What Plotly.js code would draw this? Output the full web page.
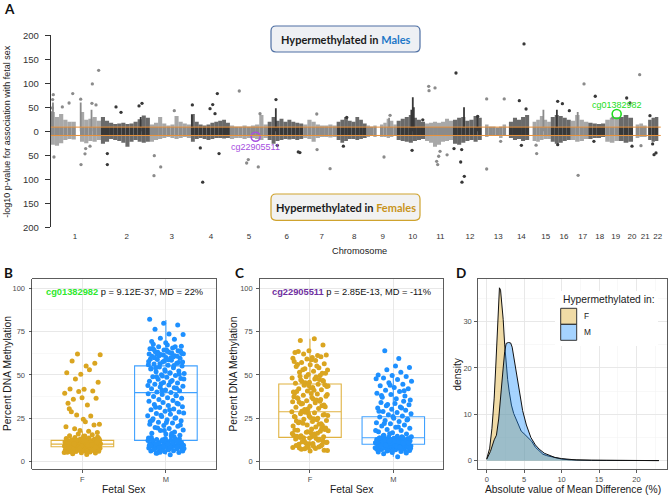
<!DOCTYPE html>
<html><head><meta charset="utf-8">
<script src="https://cdn.plot.ly/plotly-3.0.1.min.js"></script>
<style>html,body{margin:0;padding:0;background:#fff}#plot{width:669px;height:496px}</style>
</head><body><div id="plot"></div>
<script>
// ================= Panel A : Manhattan plot =================
const chrLabels = ['1','2','3','4','5','6','7','8','9','10','11','12','13','14','15','16','17','18','19','20','21','22'];
// plotted span of each chromosome (Mb, as laid out on the x axis)
const chrSpan = [246,240,201,191,185,174,164,147,147,139,137,141,119,113,106,98,86,83,67,69,67,57];
// first probe position (acrocentric chromosomes have no probes on the p arm)
const chrProbeStart = [0,0,0,0,0,0,0,0,0,0,0,0,16,14,17,0,0,0,0,0,13,7];
// chromosome label positions (cumulative Mb)
const chrTickPos = [119,372,593,785,972,1156,1328,1487,1627,1774,1909,2054,2193,2306,2425,2515,2607,2690,2768,2848,2913,2974];
// envelope of the dense band of points (signed -log10 p), per chromosome bins
const bandUpper = [
 [40,30,36,24,20,20,0,40,24,26,30,22],
 [30,22,18,15,16,18,15,16,20,25,33,28],
 [14,18,30,16,12,14,32,20,16,14],
 [36,20,14,12,14,18,20,22,24,18],
 [12,10,10,12,10,12,14,34,14],
 [20,30,22,26,20,24,20,18,16],
 [14,24,20,14,12,12,14,12],
 [20,24,30,22,20,30,24,16],
 [12,10,12,0,14,18,26,22,14],
 [22,26,30,34,28,24,20],
 [16,18,20,18,20,26,22],
 [24,28,30,22,24,32,28],
 [14,10,10,8,10,14],
 [20,28,24,30,34],
 [20,24,32,24,20],
 [30,34,32,28,24],
 [22,34,24,20],
 [18,16,15,16],
 [24,28,30],
 [30,34,28],
 [14,16,12],
 [24,28,30]];
const bandLower = [
 [-28,-30,-25,-18,-16,-17,0,-22,-25,-20,-22,-18],
 [-26,-22,-16,-18,-20,-24,-32,-22,-18,-22,-24,-22],
 [-22,-18,-16,-14,-12,-14,-16,-14,-12,-14],
 [-22,-16,-14,-16,-18,-16,-14,-14,-15,-14],
 [-16,-14,-14,-16,-14,-14,-16,-18,-14],
 [-18,-26,-20,-18,-16,-17,-16,-18,-16],
 [-14,-16,-22,-14,-12,-12,-13,-12],
 [-18,-24,-20,-16,-16,-18,-16,-14],
 [-12,-10,-12,0,-12,-12,-14,-12,-10],
 [-18,-20,-22,-24,-20,-18,-16],
 [-20,-24,-32,-28,-22,-20,-18],
 [-26,-28,-24,-20,-18,-22,-18],
 [-12,-8,-8,-8,-14,-10],
 [-14,-18,-16,-20,-18],
 [-20,-22,-18,-16,-16],
 [-22,-26,-24,-20,-18],
 [-18,-22,-20,-16],
 [-16,-14,-14,-12],
 [-22,-24,-20],
 [-20,-24,-22],
 [-14,-12,-12],
 [-18,-22,-20]];
const bandCore = 9;   // solid part of the band (|-log10 p| below this)
// tall columns of points
const spikeChr = [1,1,1,1,2,4,6,10,10,10,12,15,16,17,9,12];
const spikePos = [5,11,147,200,195,5,40,72,79,84,54,70,30,34,110,120];
const spikeTop = [42,60,60,45,30,34,48,45,71,50,50,45,45,40,28,33];
// isolated points
const ptChr = [1,1,1,1,1,1,1,1,1,1,1,1,1,1,1,1, 2,2,2,2,2,2, 3,3,3,3, 4,4,4,4,4,4,4,4, 5,5,5,5,5, 6,6,6,6, 7,7,7, 8,8, 9,9, 10,10,
 11,11,11,11,11,11,11,11, 12,12,12,12,12,12,12, 13,13,13,13, 14,14,14,14, 15,15, 16,16,16,16, 17,17, 18,18, 19, 20,20,20, 21,21, 22,22,22,22];
const ptPos = [12.7,9.6,8,16,57,90,108,147,148.5,168,171.5,204,202,222,235,192.6, 31.5,31.5,74,98.5,186.7,201.4, 21.6,20,53,119.6,
 7,57.8,46,93.6,106.8,118,129.4,137.7, 46,90,82,139,147.5, 40.7,47,150,158, 66.6,131.8,68, 49.5,33, 114.7,85, 75.5,128,
 18,19.6,49,57,67,73.5,62,108, 14.7,5,37.7,44,55.4,42.6,121, 24,24,110,92.6, 88,65,98,75, 37,34, 34,57,91,34, 65,36, 34,27.4, 36.5, 38,54,64, 32.6,39, 16,36,45.6,29];
const ptVal = [76.4,66,48.6,-53.5,50.7,59,78.5,67,-69.4,-47,-36,98.6,58.3,55,127,-31, -69.4,-46.5,50.7,39.6,52.8,58.3, -50.7,-92.4,-74.3,43,
 55,-106,-34.7,47.2,55.6,36.8,78.5,-46.5, 84,-59,-66,-74.3,36.8, 66,-29.2,-43,-44.4, 36,-77.8,-38, 29,-31, 33.3,-53.5, -39.6,24,
 93.75,84.7,90.3,-62.5,-52,-41.7,-69.4,-49, 121.5,-36,-64,-106,-93.75,-38,31, 67.4,-78.5,67.4,-20.8, 182,63.9,46.5,-29.2, -46.5,-29, 62.5,57.6,43,-27.8, 98.6,-91.7, 73,-20.8, 27.8, 69.4,59,-31, 118,-29.9, 32.6,-48.6,-45,-26.4];
const sigThreshold = 8.7;
// highlighted CpGs
const hlLabel = ['cg01382982','cg22905511'];
const hlChr = [19,5];
const hlPos = [56,126];
const hlVal = [36,-11.25];
const yTickVals = [-200,-150,-100,-50,0,50,100,150,200];

// ================= Panels B / C : box plots =================
const sexLabels = ['F','M'];
const methylB_F = [4.2,4.6,5.0,5.2,5.4,5.6,5.8,6.0,6.1,6.3,6.4,6.6,6.7,6.9,7.0,7.1,7.3,7.4,7.5,7.6,7.8,7.9,8.0,8.1,8.2,8.3,8.4,8.5,8.6,8.7,8.7,8.8,8.9,9.0,9.0,9.1,9.2,9.2,9.3,9.4,9.4,9.5,9.6,9.6,9.7,9.8,9.8,9.9,10.0,10.0,10.1,10.1,10.2,10.3,10.3,10.4,10.5,10.5,10.6,10.7,10.8,10.8,10.9,11.0,11.1,11.2,11.3,11.4,11.5,11.6,11.7,11.8,12.0,12.1,12.2,12.4,12.5,12.7,12.9,13.1,13.3,13.6,13.9,14.2,14.6,15.0,15.5,16.0,5.3,6.2,7.2,8.2,9.1,10.2,11.1,12.3,13.4,14.8,5.7,6.8,7.7,8.6,9.5,10.4,11.3,12.6,7.9,9.9,
 62.1,61.7,55.2,58.0,56.7,50.4,51.2,53.0,47.7,45.8,41.7,41.9,40.8,40.5,39.4,32.7,36.0,36.5,36.9,33.7,26.3,26.9,21.5,23.0,28.8,21.2,18.0,20.2,17.5,19.0,16.8,24.5,30.5];
const methylB_M = [4.0,4.8,5.3,5.7,6.1,6.3,6.6,6.9,7.1,7.4,7.5,7.7,7.9,8.1,8.3,8.4,8.7,8.9,9.1,9.2,9.5,9.7,9.9,10.1,10.2,10.5,10.7,10.8,11.1,11.3,11.4,11.7,11.9,12.2,12.4,12.8,13.1,13.4,13.9,14.4,5.5,6.2,6.8,7.3,8.0,8.6,9.3,9.8,10.4,11.0,11.6,12.3,13.0,6.5,7.6,8.8,10.0,11.2,12.0,9.4,10.9,8.2,9.0,10.3,7.0,11.8,12.6,13.6,14.8,5.0,
 15.2,15.9,16.4,17.1,17.9,18.3,19.1,19.7,20.4,20.8,21.6,22.3,22.7,23.6,24.1,24.8,25.3,26.1,26.5,27.4,27.8,28.6,29.1,29.9,30.3,31.2,31.6,32.4,32.9,33.7,34.1,34.8,16.2,19.4,21.1,22.6,23.9,25.1,26.7,28.1,30.0,31.4,33.3,18.0,23.2,
 35.3,35.8,36.5,36.9,37.6,38.0,38.7,39.1,39.8,40.2,40.9,41.3,42.0,42.6,43.1,43.5,44.2,44.6,45.3,45.7,46.4,46.8,47.5,47.9,48.6,49.0,49.7,50.1,50.8,51.2,51.9,52.3,53.0,53.4,54.1,54.5,55.2,55.6,56.3,56.7,57.4,57.8,58.5,58.9,59.6,60.0,60.7,61.1,61.8,62.2,62.9,63.3,64.0,64.4,65.1,65.5,66.2,66.6,67.3,67.7,38.2,41.1,43.9,46.1,48.9,50.4,52.1,53.7,55.5,56.4,57.5,58.7,59.9,60.8,61.5,62.0,62.6,63.1,63.8,64.3,65.2,66.3,44.9,47.6,51.0,54.2,57.1,58.2,59.2,60.4,61.0,62.4,63.5,64.7,42.3,49.4,55.8,60.1,61.9,63.7,
 68.5,69.2,70.5,71.2,73.3,73.6,76.4,78.8,79.8,82.1];
const methylC_F = [70.8,69.8,67.3,64.0,62.9,61.2,62.1,61.5,60.0,63.5,60.5,
 59.2,59.6,58.3,57.1,56.4,55.8,54.9,54.2,53.6,52.8,52.1,51.5,50.9,50.3,57.7,55.1,53.0,51.0,58.8,56.0,
 49.6,49.0,48.3,47.7,47.1,46.5,45.8,45.2,44.6,44.0,43.3,42.7,42.1,41.5,40.8,40.2,48.8,46.2,44.3,42.4,40.5,47.4,45.5,43.6,41.2,49.3,46.8,43.9,
 39.6,39.0,38.3,37.7,37.0,36.4,35.8,35.1,34.5,33.9,33.2,32.6,32.0,31.3,30.7,30.1,38.7,36.1,34.2,32.3,30.4,37.4,35.5,33.6,31.7,39.3,36.8,34.8,
 29.5,28.8,28.2,27.6,26.9,26.3,25.7,25.0,24.4,23.8,23.1,22.5,21.9,21.2,20.6,20.0,29.0,27.2,25.4,23.5,21.6,28.5,26.6,24.7,22.8,20.9,27.9,26.0,24.1,22.2,
 19.4,18.8,18.1,17.5,16.9,16.2,15.6,15.0,14.3,13.7,13.1,12.4,11.8,11.2,10.5,10.0,19.0,17.2,15.3,13.4,11.5,18.5,16.6,14.7,12.8,10.9,17.8,15.9,14.0,12.1,10.3,18.2,16.4,13.8,11.0,14.5,
 9.6,9.1,8.6,8.1,7.6,7.1,6.6,6.1,9.3,8.4,7.4,6.4,8.9,7.9,9.8,8.2];
const methylC_M = [2.9,4.5,5.0,5.3,5.6,5.9,6.2,6.5,6.8,7.0,7.2,7.4,7.6,7.8,8.0,8.2,8.4,8.6,8.8,9.0,9.1,9.3,9.4,9.6,9.7,9.9,10.0,10.1,10.3,10.4,10.5,10.7,10.8,10.9,11.1,11.2,11.3,11.5,11.6,11.7,11.9,12.0,12.2,12.3,12.5,12.6,12.8,12.9,13.1,13.3,13.5,13.7,13.9,14.1,14.3,14.6,14.9,5.4,6.0,6.7,7.3,7.9,8.5,9.2,9.8,10.2,10.6,11.0,11.4,11.8,12.4,13.0,13.6,14.4,6.4,7.7,8.9,10.0,11.3,12.7,7.1,8.3,9.5,10.9,12.1,9.0,10.6,11.7,8.0,13.4,
 15.3,15.9,16.6,17.2,17.9,18.5,19.2,19.8,20.5,21.1,21.8,22.4,23.1,23.7,24.4,25.0,25.7,26.3,27.0,27.6,28.3,28.9,29.6,30.2,30.9,31.5,32.2,32.8,33.5,34.1,34.8,16.1,18.0,20.0,22.0,24.0,26.0,29.0,31.0,33.0,
 35.5,36.3,37.1,37.9,38.7,39.5,40.4,41.2,42.0,42.8,43.7,44.6,45.5,46.4,47.3,48.2,49.1,49.7,50.0,51.5,53.0,54.3,55.1,38.2,40.9,44.0,47.8,
 59.5,64.0];
// box statistics [F, M]
const bQ1 = [8.6,12.3],  bMed = [10.1,39.8], bQ3 = [12.3,55.2], bLo = [4.3,4.0], bHi = [17.5,81.7];
const cQ1 = [14.0,10.0], cMed = [28.8,13.8], cQ3 = [44.8,25.9], cLo = [6.1,2.9], cHi = [70.8,49.7];
const titleB = ['cg01382982',' p = 9.12E-37, MD = 22%'];
const titleC = ['cg22905511',' p = 2.85E-13, MD = -11%'];

// ================= Panel D : density =================
const diffX_F = [0,0.4,0.7,1.0,1.2,1.4,1.55,1.7,1.85,2.0,2.2,2.4,2.6,2.8,3.0,3.3,3.6,3.9,4.2,4.6,5.0,5.5,6.0,6.5,7.0,7.5,8.0,8.5,9,10,11,12,14,16,18,20,22,23];
const dens_F  = [0.4,2.7,7,13.5,20,28,34,37.3,36.8,34.5,30.5,25,21,17.5,15,12,10.2,9,7.8,6.4,5.8,5.1,4.2,2.9,2.1,1.4,1.1,0.9,0.6,0.35,0.2,0.12,0.08,0.06,0.05,0.04,0.03,0.02];
const diffX_M = [0,0.5,1.0,1.3,1.6,1.95,2.2,2.4,2.6,2.9,3.2,3.4,3.6,3.8,4.1,4.4,4.8,5.3,5.9,6.5,7.0,7.7,8.5,9.1,10,11,12,14,16,18,20,22,23];
const dens_M  = [0.3,2,4.5,5.5,9,16.3,20,23.5,25.3,25.5,25.4,24.5,22.5,19.9,17,14.2,10.8,7.7,5,3.4,2.5,1.6,1.0,0.7,0.45,0.3,0.15,0.1,0.08,0.06,0.05,0.03,0.02];
const legendTitle = 'Hypermethylated in:';

// ================= drawing =================
const W = 669, H = 496;
const px = v => v / W, py = v => 1 - v / H;
const FONT = 'Liberation Sans, Arial, sans-serif';
const BOLDFONT = 'Lato, Open Sans, sans-serif';
const GRAY = '#8b8b8b', DARK = '#383838';
const GOLD = '#DAA520', BLUE = '#1E90FF';
const traces = [];

const cum = []; let acc = 0;
chrSpan.forEach(s => { cum.push(acc); acc += s; });
const chrColor = i => (i % 2 === 0 ? GRAY : DARK);

// dense band: solid core plus lighter fringe
const core = {x:[], base:[], y:[], w:[], c:[]}, fringe = {x:[], base:[], y:[], w:[], c:[]};
const addBar = (o, x, b, h, w, c) => { if (h <= 0) return; o.x.push(x); o.base.push(b); o.y.push(h); o.w.push(w); o.c.push(c); };
bandUpper.forEach((ups, i) => {
  const lows = bandLower[i];
  const start = cum[i] + chrProbeStart[i];
  const binW = (chrSpan[i] - chrProbeStart[i]) / ups.length;
  ups.forEach((u, j) => {
    const l = lows[j];
    if (u === 0 && l === 0) return;
    const xc = start + (j + 0.5) * binW, col = chrColor(i);
    const cu = Math.min(u, bandCore), cl = Math.max(l, -bandCore);
    addBar(core, xc, cl, cu - cl, binW, col);
    addBar(fringe, xc, cu, u - cu, binW, col);
    addBar(fringe, xc, l, cl - l, binW, col);
  });
});
traces.push({type:'bar', x:fringe.x, y:fringe.y, base:fringe.base, width:fringe.w, marker:{color:fringe.c, opacity:0.75, line:{width:0}}, xaxis:'x', yaxis:'y', hoverinfo:'skip'});
traces.push({type:'bar', x:core.x, y:core.y, base:core.base, width:core.w, marker:{color:core.c, line:{width:0}}, xaxis:'x', yaxis:'y', hoverinfo:'skip'});

// spikes
[0,1].forEach(par => {
  const sx = [], sy = [];
  spikeChr.forEach((c, k) => {
    if ((c - 1) % 2 !== par) return;
    const x = cum[c - 1] + spikePos[k];
    sx.push(x, x, null); sy.push(0, spikeTop[k], null);
  });
  traces.push({type:'scatter', mode:'lines', x:sx, y:sy, line:{color: par === 0 ? GRAY : DARK, width:1.8}, xaxis:'x', yaxis:'y', hoverinfo:'skip'});
});

// isolated points
traces.push({type:'scatter', mode:'markers',
  x: ptChr.map((c, k) => cum[c - 1] + ptPos[k]), y: ptVal,
  marker:{size:3.3, color: ptChr.map(c => chrColor(c - 1))}, xaxis:'x', yaxis:'y', hoverinfo:'skip'});

// highlighted CpGs
const hlColor = ['#22dd22', '#a64fe0'];
traces.push({type:'scatter', mode:'markers',
  x: hlChr.map((c, k) => cum[c - 1] + hlPos[k]), y: hlVal,
  marker:{symbol:'circle-open', size:9, color:hlColor, line:{width:1.6, color:hlColor}}, xaxis:'x', yaxis:'y', hoverinfo:'skip'});

// Panels B and C: jittered points (horizontal spread only) + boxes
const GOLDEN = 0.6180339887;
const jitter = (n, center) => Array.from({length:n}, (_, k) => center + (((k + 1) * GOLDEN) % 1 - 0.5) * 0.44);
function boxPanel(xa, ya, fVals, mVals, q1, med, q3, lo, hi) {
  [fVals, mVals].forEach((vals, i) => {
    traces.push({type:'scatter', mode:'markers', x:jitter(vals.length, i + 1), y:vals,
      marker:{color: i === 0 ? GOLD : BLUE, size:5}, xaxis:xa, yaxis:ya, hoverinfo:'skip'});
  });
  [0,1].forEach(i => {
    traces.push({type:'box', x:[i + 1], q1:[q1[i]], median:[med[i]], q3:[q3[i]], lowerfence:[lo[i]], upperfence:[hi[i]],
      width:0.75, boxpoints:false, whiskerwidth:0,
      line:{color: i === 0 ? 'rgba(218,165,32,0.85)' : 'rgba(30,144,255,0.85)', width:1.1},
      fillcolor:'rgba(0,0,0,0)', xaxis:xa, yaxis:ya, hoverinfo:'skip'});
  });
}
boxPanel('x2','y2', methylB_F, methylB_M, bQ1, bMed, bQ3, bLo, bHi);
boxPanel('x3','y3', methylC_F, methylC_M, cQ1, cMed, cQ3, cLo, cHi);

// Panel D
traces.push({type:'scatter', mode:'lines', x:diffX_F, y:dens_F, fill:'tozeroy', fillcolor:'rgba(218,165,32,0.4)', line:{color:'#111', width:1}, xaxis:'x4', yaxis:'y4', hoverinfo:'skip'});
traces.push({type:'scatter', mode:'lines', x:diffX_M, y:dens_M, fill:'tozeroy', fillcolor:'rgba(30,144,255,0.4)', line:{color:'#111', width:1}, xaxis:'x4', yaxis:'y4', hoverinfo:'skip'});

// ---------- layout ----------
const bw_axis = {showline:true, mirror:true, linecolor:'#333', linewidth:0.8, ticks:'outside', ticklen:3, tickwidth:0.8, tickcolor:'#333',
  tickfont:{family:FONT, size:7.5, color:'#4d4d4d'}, showgrid:true, gridcolor:'#e6e6e6', gridwidth:0.9, zeroline:false, fixedrange:true};
const minorGrid = d => ({dtick:d, tick0:0, showgrid:true, gridcolor:'#f3f3f3', gridwidth:0.6});
const yDomBottom = [py(469.3), py(279)];

function rrect(x0, y0, x1, y1, r) {
  const X = v => px(v).toFixed(5), Y = v => py(v).toFixed(5);
  return `M${X(x0+r)},${Y(y0)} L${X(x1-r)},${Y(y0)} Q${X(x1)},${Y(y0)} ${X(x1)},${Y(y0+r)} L${X(x1)},${Y(y1-r)} Q${X(x1)},${Y(y1)} ${X(x1-r)},${Y(y1)} L${X(x0+r)},${Y(y1)} Q${X(x0)},${Y(y1)} ${X(x0)},${Y(y1-r)} L${X(x0)},${Y(y0+r)} Q${X(x0)},${Y(y0)} ${X(x0+r)},${Y(y0)} Z`;
}
const shapes = [
  {type:'line', xref:'x', yref:'y', x0:0, x1:2989, y0:sigThreshold, y1:sigThreshold, line:{color:'#e8913a', width:1}, layer:'above'},
  {type:'line', xref:'x', yref:'y', x0:0, x1:2989, y0:-sigThreshold, y1:-sigThreshold, line:{color:'#e8913a', width:1}, layer:'above'},
  {type:'path', xref:'paper', yref:'paper', path:rrect(271,26,420,52,5), fillcolor:'#eef0f4', line:{color:'#4e6fa3', width:1.2}, layer:'above'},
  {type:'path', xref:'paper', yref:'paper', path:rrect(271,194,420,220.3,5), fillcolor:'#f2f2f2', line:{color:'#cfa32e', width:1.2}, layer:'above'},
  // legend of panel D
  {type:'rect', xref:'paper', yref:'paper', x0:px(555), x1:px(658), y0:py(346), y1:py(291), fillcolor:'#fff', line:{width:0}, layer:'above'},
  {type:'rect', xref:'paper', yref:'paper', x0:px(560.7), x1:px(576.7), y0:py(324.3), y1:py(308.3), fillcolor:'rgba(218,165,32,0.4)', line:{color:'#333', width:1}, layer:'above'},
  {type:'rect', xref:'paper', yref:'paper', x0:px(560.7), x1:px(576.7), y0:py(340.3), y1:py(324.3), fillcolor:'rgba(30,144,255,0.4)', line:{color:'#333', width:1}, layer:'above'}
];

const ann = (x, y, text, o = {}) => Object.assign({xref:'paper', yref:'paper', x:px(x), y:py(y), text, showarrow:false,
  xanchor:'center', yanchor:'middle', font:{family:FONT, size:10.3, color:'#1a1a1a'}}, o);
const annotations = [
  ann(9.5, 9, '<b>A</b>', {font:{family:BOLDFONT, size:13.5, color:'#111'}}),
  ann(8.5, 273, '<b>B</b>', {font:{family:BOLDFONT, size:13.5, color:'#111'}}),
  ann(239.5, 273, '<b>C</b>', {font:{family:BOLDFONT, size:13.5, color:'#111'}}),
  ann(460.5, 273, '<b>D</b>', {font:{family:BOLDFONT, size:13.5, color:'#111'}}),
  ann(7.5, 131.3, '-log10 p-value for association with fetal sex', {textangle:-90, font:{family:FONT, size:9, color:'#222'}}),
  ann(359, 250.7, 'Chromosome', {font:{family:FONT, size:9.2, color:'#222'}}),
  ann(345.5, 39.3, '<b>Hypermethylated in <span style="color:#1f78c8">Males</span></b>', {font:{family:BOLDFONT, size:11, color:'#1a1a1a'}}),
  ann(345.5, 207.3, '<b>Hypermethylated in <span style="color:#c8941c">Females</span></b>', {font:{family:BOLDFONT, size:11, color:'#1a1a1a'}}),
  {xref:'x', yref:'y', x:cum[hlChr[0]-1] + hlPos[0], y:hlVal[0], yshift:9.5, text:hlLabel[0], showarrow:false, font:{family:FONT, size:9, color:hlColor[0]}},
  {xref:'x', yref:'y', x:cum[hlChr[1]-1] + hlPos[1], y:hlVal[1], yshift:-10, text:hlLabel[1], showarrow:false, font:{family:FONT, size:9, color:hlColor[1]}},
  {xref:'x2', yref:'y2', x:1.5, y:98, text:`<b><span style="color:#2ee82e">${titleB[0]}</span></b>${titleB[1]}`, showarrow:false, font:{family:FONT, size:9.3, color:'#111'}},
  {xref:'x3', yref:'y3', x:1.5, y:98, text:`<b><span style="color:#7030a0">${titleC[0]}</span></b>${titleC[1]}`, showarrow:false, font:{family:FONT, size:9.3, color:'#111'}},
  ann(124.2, 489, 'Fetal Sex'),
  ann(7, 374, 'Percent DNA Methylation', {textangle:-90}),
  ann(351.7, 489, 'Fetal Sex'),
  ann(232.5, 374, 'Percent DNA Methylation', {textangle:-90}),
  ann(572.8, 489.5, 'Absolute value of Mean Difference (%)'),
  ann(456.7, 374, 'density', {textangle:-90}),
  ann(560.7, 299, legendTitle, {xanchor:'left'}),
  ann(582, 316.3, sexLabels[0], {xanchor:'left', font:{family:FONT, size:8.3, color:'#1a1a1a'}}),
  ann(582, 332.3, sexLabels[1], {xanchor:'left', font:{family:FONT, size:8.3, color:'#1a1a1a'}})
];

const layout = {
  width:W, height:H, margin:{l:0, r:0, t:0, b:0}, paper_bgcolor:'#fff', plot_bgcolor:'rgba(0,0,0,0)',
  showlegend:false, barmode:'overlay', boxmode:'overlay', hovermode:false,
  xaxis:{domain:[px(50.7), px(662)], range:[0, 2995], anchor:'y', tickmode:'array', tickvals:chrTickPos, ticktext:chrLabels,
    showline:false, ticks:'', showgrid:false, zeroline:false, tickfont:{family:FONT, size:8, color:'#333'}, ticklabelstandoff:3, fixedrange:true},
  yaxis:{domain:[py(227.3), py(35.3)], range:[-200, 200], anchor:'x', tickmode:'array', tickvals:yTickVals,
    ticktext:yTickVals.map(v => String(Math.abs(v))), showline:true, linecolor:'#333', linewidth:1, ticks:'outside', ticklen:5,
    tickcolor:'#333', tickwidth:1, showgrid:false, zeroline:false, tickfont:{family:FONT, size:9.5, color:'#333'}, ticklabelstandoff:4, fixedrange:true},
  xaxis2:Object.assign({}, bw_axis, {domain:[px(32.3), px(216)], range:[0.4, 2.6], anchor:'y2', tickmode:'array', tickvals:[1,2], ticktext:sexLabels}),
  yaxis2:Object.assign({}, bw_axis, {domain:yDomBottom, range:[-4.4, 105.3], anchor:'x2', tick0:0, dtick:25, minor:minorGrid(12.5), ticklabelstandoff:2}),
  xaxis3:Object.assign({}, bw_axis, {domain:[px(260), px(443.3)], range:[0.4, 2.6], anchor:'y3', tickmode:'array', tickvals:[1,2], ticktext:sexLabels}),
  yaxis3:Object.assign({}, bw_axis, {domain:yDomBottom, range:[-4.4, 105.3], anchor:'x3', tick0:0, dtick:25, minor:minorGrid(12.5), ticklabelstandoff:2}),
  xaxis4:Object.assign({}, bw_axis, {domain:[px(478.1), px(667.5)], range:[-1.15, 24.15], anchor:'y4', tick0:0, dtick:5, minor:minorGrid(2.5)}),
  yaxis4:Object.assign({}, bw_axis, {domain:yDomBottom, range:[-1.86, 39.2], anchor:'x4', tick0:0, dtick:10, minor:minorGrid(5), ticklabelstandoff:1}),
  shapes, annotations
};
Plotly.newPlot('plot', traces, layout, {staticPlot:true, displayModeBar:false});
</script></body></html>
